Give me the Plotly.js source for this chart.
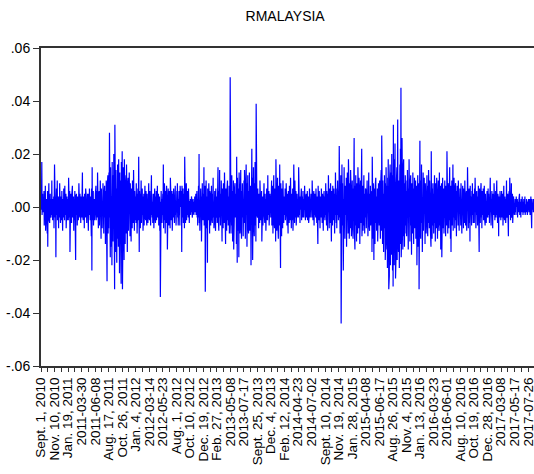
<!DOCTYPE html>
<html>
<head>
<meta charset="utf-8">
<script src="https://cdn.plot.ly/plotly-3.0.1.min.js"></script>
<style>
  html, body { margin: 0; padding: 0; background: #fff; overflow: hidden; }
  #chart { width: 536px; height: 474px; }
</style>
</head>
<body>
<div id="chart"></div>
<script>
// Daily returns of the Malaysian index, one value per trading day,
// stored in thousandths (e.g. 12 means 0.012). One row per 50 trading days.
const rmalaysiaMilli = [
  2,-1,4,17,-3,1,5,-2,0,3, -2,6,-7,1,3,-1,8,-9,2,-4, 3,1,-2,-10,6,-15,4,-2,1,9, -5,3,-6,2,5,-3,0,-4,3,-1, 10,-3,2,-5,3,0,-2,4,-8,3,
  16,-3,1,-4,3,-19,2,7,-3,0, 10,-5,2,-1,4,-8,2,3,-4,9, -2,1,-6,4,0,2,-5,6,-3,2, -9,3,1,-4,7,-1,2,-5,8,-3, 1,-2,5,-8,3,0,4,-5,2,-3,
  3,-5,11,-2,1,-4,6,-17,3,-1, 5,-3,2,-6,5,0,8,-4,1,-3, 4,-9,3,1,-5,6,-2,3,-20,4, -1,5,-3,2,-7,4,0,3,-5,1, 9,-3,2,-4,5,-1,3,-6,4,-2,
  3,-4,6,13,-3,1,-5,4,-2,3, -8,5,-1,2,-4,7,-3,4,0,-6, 3,-2,5,-4,1,-9,5,-3,2,7, -4,0,-5,4,-1,3,-11,7,-24,15, -5,2,-3,6,-7,4,-1,3,-5,3,
  -2,5,-3,8,-5,3,-1,6,-4,13, -3,2,-8,4,0,6,-7,3,-2,10, -5,3,-12,7,-1,4,-8,2,-3,9, -6,1,-10,5,-3,8,-4,2,-14,6, -7,10,-18,4,-28,8,-3,12,-10,6,
  -8,13,-4,28,-12,7,-19,15,-6,10, -15,4,-22,17,-9,5,-13,12,-7,20, -10,3,-31,31,-13,8,-17,14,-5,11, -21,7,-12,16,-8,4,-15,18,-3,9, -25,13,-6,10,-16,6,-29,17,-11,8,
  21,-31,10,-7,15,-12,4,-20,18,-6, 9,-14,7,-3,12,-10,16,-5,3,-17, 8,-4,11,-9,6,-2,13,-7,3,-11, 9,-3,5,-13,7,-1,4,-8,10,-4, 2,-6,14,-5,1,-9,6,-3,4,-5,
  4,-6,9,-3,5,-10,3,-1,7,-5, 2,19,-4,-17,6,-2,5,-8,3,-3, 10,-6,1,-4,7,-3,4,-9,2,0, 5,-7,3,-2,8,-4,1,-5,6,-3, 3,-7,5,-1,3,-6,2,-4,9,-4,
  3,-5,6,-2,4,-7,1,-3,12,-3, 5,-4,2,-6,3,-1,5,-8,3,-2, 7,-3,1,-6,4,0,6,-5,2,-3, 8,-4,3,-1,5,-7,3,-2,4,-9, 2,-34,5,-3,6,-1,3,-6,3,-4,
  5,-3,16,-8,3,-5,9,-2,4,-10, 6,-1,3,-6,8,-4,2,-16,5,0, 7,-4,3,-7,6,-3,1,-8,11,-2, 4,-5,3,-1,6,-9,3,-2,5,-4, 7,-3,1,-6,4,0,8,-3,2,-7,
  3,-5,6,-2,9,-4,3,-7,5,-1, 6,-3,2,-7,8,-3,4,0,-9,6, -17,8,-2,3,-4,7,-6,3,-1,5, -8,19,-3,2,-6,4,-3,9,-5,1, -3,6,-2,3,-4,7,-1,3,-6,2,
  2,-1,3,-3,1,-2,4,0,2,-4, 1,-1,3,-2,0,-3,2,-1,4,-2, 1,0,5,-3,2,-1,6,-4,3,-7, 5,-2,8,-4,20,-6,2,-9,4,-3, 7,-1,4,-13,6,-2,9,-4,3,-5,
  5,-3,15,-7,2,-4,8,-32,6,-2, 10,-4,3,-8,4,-21,7,-1,4,-5, 9,-3,2,-10,6,0,4,-7,3,-2, 8,-4,1,-6,5,-3,11,-4,2,-8, 4,-1,6,-5,3,-9,7,-2,4,-4,
  4,-6,8,-2,15,-4,3,-9,6,-1, 14,-4,2,-7,5,-3,10,-5,4,-13, 7,0,4,-8,9,-3,2,-6,13,-4, 5,-1,-14,7,-4,3,-9,6,-2,10, -5,4,-7,4,-1,8,-10,3,-3,49,
  -6,4,-10,8,-3,12,-7,2,-13,6, -3,10,-16,4,-5,7,-2,9,-4,3, -8,5,-14,19,-6,-21,11,-3,7,-9, 4,-19,13,-5,2,-10,8,-3,14,-7, 3,-12,6,-2,9,-4,3,-11,5,-4,
  10,-6,14,-4,7,-12,5,-8,16,-3, 9,-15,5,-2,12,-7,4,-10,6,-5, 13,-9,3,-5,8,-2,-22,7,-14,22, -4,11,-20,6,-8,15,-5,3,-11,9, -6,17,-7,4,-13,39,-6,10,-3,5,
  -4,7,-2,3,-8,5,-1,3,-6,10, -3,2,-5,4,0,6,-13,3,-2,4, -7,1,3,-4,9,-3,2,-6,5,-1, 3,-9,4,-2,7,-4,1,-5,12,-3, 3,-1,6,-7,2,-4,5,0,3,-4,
  6,-4,10,-7,3,-2,8,-10,4,-1, 12,-5,2,-8,7,-3,5,-13,18,-4, 3,-9,6,-2,11,-6,3,-12,8,-4, 1,-7,16,-5,4,-23,9,-3,5,-11, 7,-1,3,-8,10,-4,2,-6,4,-3,
  4,-2,7,-5,3,-1,9,-4,2,-7, 5,0,4,-10,6,-3,2,-6,8,-4, 1,-5,11,-2,3,-8,5,-1,3,-5, 7,-9,4,-2,16,-4,2,-6,10,-3, 1,-4,6,-7,3,-1,5,-3,2,-4,
  3,-4,15,-2,5,-3,1,-6,4,-1, 3,-3,7,-5,2,0,4,-4,6,-2, 1,-4,3,-1,8,-3,2,-5,3,0, 5,-4,1,-2,6,-5,3,-1,4,-6, 2,-3,7,-1,3,-4,2,0,5,-3,
  2,-4,10,-1,4,-5,3,-2,6,-7, 1,-3,5,0,3,-4,7,-2,2,-6, 4,-1,3,-14,8,-4,1,-5,6,-2, 3,-8,4,0,3,-4,7,-3,2,-6, 5,-1,3,-9,3,-2,6,-4,1,-5,
  4,-3,9,-5,2,-7,6,-1,3,-9, 5,-2,12,-4,3,-8,7,-3,1,-6, 9,-3,4,-13,6,-2,3,-7,8,-4, 2,-5,7,-1,3,-10,5,-3,13,-2, 4,-6,3,-8,7,-3,10,-4,2,-5,
  6,-4,23,-8,3,-10,7,-2,12,-44, 5,-6,16,-3,9,-7,3,-24,10,-5, 15,-2,4,-12,8,-9,6,-3,11,-15, 3,-7,13,-4,2,-10,18,-6,7,-12, 4,-3,9,-8,14,-4,5,-11,8,-5,
  10,-6,4,-12,7,-2,14,26,-9,5, -16,8,-3,12,-7,4,-13,9,-1,6, -10,15,-5,3,-8,11,-5,7,-14,4, -2,10,-6,13,-4,22,-11,6,-3,8, -9,5,-1,12,-7,5,-10,3,-4,7,
  -4,6,-8,3,-5,10,-2,5,-11,7, -3,13,-6,1,-9,5,-4,8,-7,2, 4,-10,6,-17,19,-5,3,-12,9,-2, -20,7,-5,4,-14,8,-1,11,-6,4, -9,3,-3,7,-13,5,-2,9,-5,6,
  -7,10,-3,5,-12,8,-4,14,-9,27, -6,4,-14,10,-2,7,-17,5,-8,12, -4,9,-20,6,-11,15,-5,3,-16,8, -23,11,-7,18,-14,-31,5,-26,10,-13, 16,-22,7,-10,13,-18,20,-15,9,-24,
  12,-30,31,-16,7,-22,18,-10,24,-7, -27,13,-18,9,-6,15,-20,8,33,-12, 4,-17,10,-5,-23,6,16,-14,22,-9, 45,-19,11,-8,26,-13,7,-16,14,-4, 18,-11,5,-15,9,-7,12,-3,8,-10,
  6,-11,10,-4,14,-8,3,-16,7,-2, 18,-9,5,-13,8,-2,12,-7,4,-18, 9,-3,6,-10,13,-5,2,-14,7,-1, 11,-8,4,-6,10,-12,5,-2,8,-22, 6,-3,12,-15,4,-7,9,-31,17,-10,
  25,-8,5,-12,10,-3,16,-6,2,-17, 8,-1,13,-9,4,-7,11,-2,6,-14, 9,-4,1,-10,7,0,12,-5,3,-11, 8,-6,14,-2,4,-8,10,-3,1,-9, 6,-15,21,-4,7,-12,5,-1,9,-7,
  5,-10,8,-3,12,-6,2,-13,9,-1, 6,-8,11,-4,3,-12,7,0,10,-5, 4,-9,13,-2,1,-7,8,-16,5,-3, 9,-19,6,-2,11,-8,4,-1,7,-10, 3,-6,10,-4,2,-11,8,0,5,-7,
  21,-6,3,-10,9,-2,7,-8,4,-1, 15,-5,2,-12,8,-17,6,-3,10,-7, 5,0,16,-9,3,-4,11,-6,1,-8, 7,-2,9,-5,4,-11,6,-1,8,-4, 2,-7,10,-3,5,-9,3,0,7,-5,
  4,-7,9,-2,6,-10,3,-1,8,-5, 2,-8,7,0,5,-6,10,-3,1,-7, 4,-2,6,-9,3,0,15,-4,2,-8, 5,-1,7,-6,3,-13,8,-2,4,-5, 1,-7,6,-3,9,-1,2,-6,5,-4,
  3,-6,7,-2,11,-4,1,-8,5,0, 6,-3,2,-7,4,-1,8,-5,0,-17, 7,-2,3,-6,5,-1,9,-4,2,-8, 6,0,4,-3,7,-5,1,-2,8,-4, 3,-7,5,-1,2,-6,4,0,6,-3,
  2,-4,7,-1,5,-3,1,-6,4,0, 11,-2,3,-7,1,-4,6,-1,2,-8, 5,0,3,-3,9,-2,1,-5,4,0, 6,-4,2,-1,10,-3,0,-6,5,-2, 3,-11,4,0,2,-4,6,-1,1,-5,
  3,-2,6,-4,1,0,5,-7,2,-1, 8,-3,0,-5,4,1,3,-6,2,-1, 10,-4,1,-2,5,0,3,-11,4,-1, 6,-3,11,-2,1,-5,4,0,9,-4, 2,-1,5,-6,3,0,4,-2,1,-3,
  1,-2,3,-1,2,-3,4,0,1,-2, 3,-4,2,-1,0,-2,3,-1,5,-3, 1,0,2,-4,3,-1,2,-2,4,0, 1,-3,2,-1,3,-2,0,-1,4,-3, 2,0,1,-2,3,-1,2,-3,1,0,
  2,-1,3,-2,1,0,3,-3,2,-1, 4,-2,1,-8,3,0,2,-1,1,-2, 3,-1,0,-2,2,-1,1,0,2,-1
];

// Date labels printed every 50 trading days, starting with the first observation.
const dateLabels = [
  "Sept. 1, 2010", "Nov. 10, 2010", "Jan. 19, 2011", "2011-03-30", "2011-06-08",
  "Aug. 17, 2011", "Oct. 26, 2011", "Jan. 4, 2012", "2012-03-14", "2012-05-23",
  "Aug. 1, 2012", "Oct. 10, 2012", "Dec. 19, 2012", "Feb. 27, 2013", "2013-05-08",
  "2013-07-17", "Sept. 25, 2013", "Dec. 4, 2013", "Feb. 12, 2014", "2014-04-23",
  "2014-07-02", "Sept. 10, 2014", "Nov. 19, 2014", "Jan. 28, 2015", "2015-04-08",
  "2015-06-17", "Aug. 26, 2015", "Nov. 4, 2015", "Jan. 13, 2016", "2016-03-23",
  "2016-06-01", "Aug. 10, 2016", "Oct. 19, 2016", "Dec. 28, 2016", "2017-03-08",
  "2017-05-17", "2017-07-26"
];

const yTickValues = [0.06, 0.04, 0.02, 0.00, -0.02, -0.04, -0.06];
const yTickLabels = [".06", ".04", ".02", ".00", "-.02", "-.04", "-.06"];

const LABEL_STEP = 50;   // observations between date labels
const TICK_STEP = 25;    // observations between tick marks

const obs = rmalaysiaMilli.map((_, i) => i);
const returns = rmalaysiaMilli.map(v => v / 1000);

// tick marks every 25 observations, a date under every second one
const xTickVals = [];
const xTickText = [];
for (let t = 0; t < rmalaysiaMilli.length; t += TICK_STEP) {
  xTickVals.push(t);
  const k = t / LABEL_STEP;
  xTickText.push(Number.isInteger(k) && k < dateLabels.length ? dateLabels[k] : "");
}

const font = { family: "Liberation Sans, Arial, sans-serif", size: 14, color: "#000" };
const dateFont = { family: "Liberation Sans, Arial, sans-serif", size: 13.5, color: "#000" };

const trace = {
  x: obs,
  y: returns,
  type: "scatter",
  mode: "lines",
  line: { color: "#0000ff", width: 1.2 },
  hoverinfo: "skip"
};

const layout = {
  width: 536,
  height: 474,
  margin: { l: 41, r: 0, t: 48, b: 108 },
  paper_bgcolor: "#fff",
  plot_bgcolor: "#fff",
  font: font,
  showlegend: false,
  title: {
    text: "RMALAYSIA",
    font: { family: "Liberation Sans, Arial, sans-serif", size: 14, color: "#000" },
    xref: "container", x: 0.532, xanchor: "center",
    yref: "container", y: 0.966, yanchor: "middle"
  },
  xaxis: {
    range: [0, rmalaysiaMilli.length - 1],
    tickmode: "array",
    tickvals: xTickVals,
    ticktext: xTickText,
    tickangle: -90,
    ticks: "outside",
    ticklen: 4,
    tickwidth: 1,
    tickcolor: "#333",
    showline: true,
    linecolor: "#333",
    linewidth: 2,
    mirror: true,
    showgrid: false,
    zeroline: false,
    tickfont: dateFont
  },
  yaxis: {
    range: [-0.06, 0.06],
    tickmode: "array",
    tickvals: yTickValues,
    ticktext: yTickLabels,
    ticks: "outside",
    ticklen: 6,
    tickwidth: 1,
    tickcolor: "#333",
    showline: true,
    linecolor: "#333",
    linewidth: 2,
    mirror: true,
    showgrid: false,
    zeroline: false,
    tickfont: font
  }
};

Plotly.newPlot("chart", [trace], layout, { staticPlot: true, displayModeBar: false });
</script>
</body>
</html>
